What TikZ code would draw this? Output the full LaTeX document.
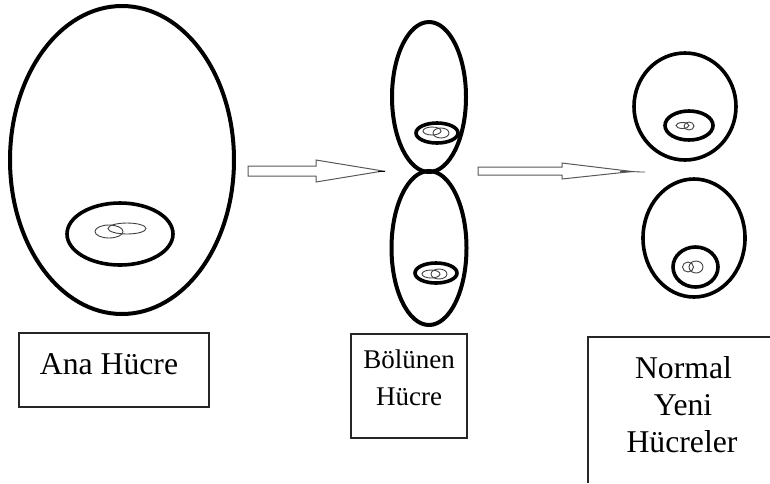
\documentclass[tikz,border=0pt]{standalone}
\usepackage{fontspec}
\setmainfont{Liberation Serif}
\usetikzlibrary{shapes.geometric}
\begin{document}
\begin{tikzpicture}[x=1pt,y=-1pt,
  cell/.style={ellipse,draw=black,line width=4pt,inner sep=0pt,fill=none},
  nucleus/.style={ellipse,draw=black,line width=3.6pt,inner sep=0pt},
  chromo/.style={ellipse,draw=black!75,line width=0.9pt,inner sep=0pt},
  blockarrow/.style={draw=black!65,line width=1pt,fill=white,line join=miter},
  labelbox/.style={draw=black!85,line width=1.2pt,inner sep=0pt},
  caption/.style={font=\fontsize{31.7}{37.5}\selectfont,inner sep=0pt,anchor=base},
  smallcaption/.style={caption,font=\fontsize{27}{32}\selectfont}]
\useasboundingbox (0,0) rectangle (770,483);

% mother cell
\node[cell,minimum width=224pt,minimum height=308pt] (mother) at (122,160) {};
\node[nucleus,minimum width=106pt,minimum height=62pt] (motherN) at (120,234) {};
\node[chromo,minimum width=28pt,minimum height=13pt] (motherC1) at (109,231.5) {};
\node[chromo,minimum width=38pt,minimum height=11pt] (motherC2) at (127,228.5) {};

% dividing cell
\node[cell,minimum width=74pt,minimum height=150pt] (divTop) at (429,97) {};
\node[cell,minimum width=75pt,minimum height=154pt] (divBot) at (429,248) {};
\node[nucleus,minimum width=42pt,minimum height=20pt] (divTopN) at (437,133) {};
\node[chromo,minimum width=18pt,minimum height=8pt] (divTopC1) at (432,131) {};
\node[chromo,minimum width=16pt,minimum height=10pt] (divTopC2) at (441,133) {};
\node[nucleus,minimum width=42pt,minimum height=20pt] (divBotN) at (436,273) {};
\node[chromo,minimum width=18pt,minimum height=8pt] (divBotC1) at (431,274) {};
\node[chromo,minimum width=16pt,minimum height=10pt] (divBotC2) at (439,274) {};

% daughter cells
\node[cell,line width=3.6pt,minimum width=102pt,minimum height=107pt] (newTop) at (685,106.5) {};
\node[nucleus,minimum width=48pt,minimum height=29pt] (newTopN) at (689,125.5) {};
\node[chromo,minimum width=13pt,minimum height=6pt] (newTopC1) at (682.5,125.5) {};
\node[chromo,minimum width=10pt,minimum height=8pt] (newTopC2) at (689,126) {};
\node[cell,line width=3.6pt,minimum width=102pt,minimum height=118pt] (newBot) at (694,238) {};
\node[nucleus,minimum width=45pt,minimum height=40pt] (newBotN) at (695.5,267) {};
\node[chromo,minimum width=11pt,minimum height=10pt] (newBotC1) at (688,267) {};
\node[chromo,minimum width=14pt,minimum height=12pt] (newBotC2) at (696,267) {};

% block arrows
\draw[blockarrow] (248,166) -- (316,166) -- (316,160) -- (383,171)
  -- (316,182) -- (316,176) -- (248,176) -- cycle;
\draw[black,line width=1pt] (378,171) -- (385,171);
\draw[blockarrow] (478,167) -- (562,167) -- (562,163) -- (632,171.5)
  -- (562,179) -- (562,175) -- (478,175) -- cycle;
\draw[black!70,line width=0.8pt] (620,171.5) -- (645,172);

% caption boxes
\node[labelbox,minimum width=190pt,minimum height=74pt] (anaBox) at (114,370) {};
\node[caption] (anaText) at (109,374) {Ana Hücre};

\node[labelbox,minimum width=116pt,minimum height=104pt] (bolBox) at (409,386) {};
\node[smallcaption] (bolText1) at (409,368) {Bölünen};
\node[smallcaption] (bolText2) at (409,405) {Hücre};

\coordinate (normTopRight) at (770,337);
\coordinate (normCorner) at (588,337);
\coordinate (normBottomLeft) at (588,483);
\draw[black!85,line width=1.2pt] (normTopRight) -- (normCorner) -- (normBottomLeft);
\node[caption] (normText1) at (683.5,378) {Normal};
\node[caption] (normText2) at (683,415) {Yeni};
\node[caption] (normText3) at (682,452) {Hücreler};
\end{tikzpicture}
\end{document}
